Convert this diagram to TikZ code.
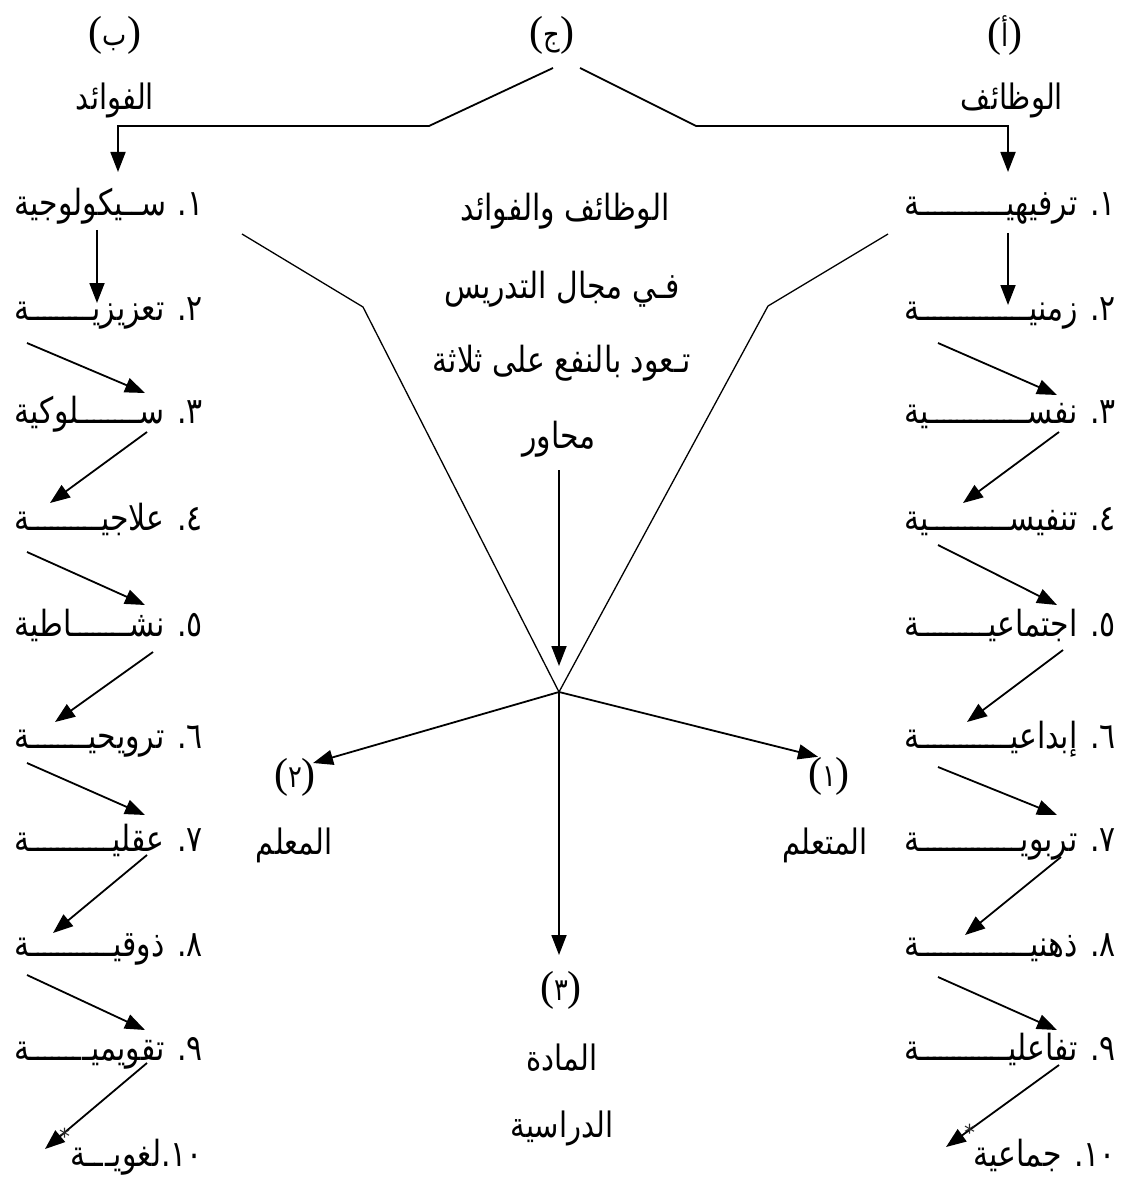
\documentclass[tikz,border=0pt]{standalone}
\usepackage{fontspec}
\TeXXeTstate=1
\newfontfamily\arabicfont[Script=Arabic,FakeStretch=0.83]{DejaVu Sans}
\newfontfamily\parenfont{Liberation Serif}
\newfontfamily\symfont{DejaVu Sans}
\usetikzlibrary{arrows.meta,calc}
% stretched kashida that fills the rest of a justified line
\newcommand\kfill{\xleaders\hbox{ـ\kern-2.5pt}\hfill}
\newcommand\parlbl[1]{\hbox{(}\hbox{\arabicfont\fontsize{31}{34}\selectfont #1}\hbox{)}}
\begin{document}
\begin{tikzpicture}[x=1pt,y=-1pt,
  txt/.style={font=\arabicfont\fontsize{36}{40}\selectfont, inner sep=0pt, text height=26pt, text depth=10pt},
  item/.style={txt, anchor=east},
  word/.style={font=\arabicfont\fontsize{35}{40}\selectfont, inner sep=0pt},
  parn/.style={font=\parenfont\fontsize{42}{46}\selectfont, inner sep=0pt},
  ast/.style={font=\symfont\fontsize{22}{22}\selectfont, text=black!85, inner sep=0pt},
  arr/.style={-{Triangle[length=20pt,width=15pt]}, line width=1.8pt},
  vline/.style={line width=1.3pt},
  ]
\useasboundingbox[fill=white] (0,0) rectangle (1123,1182);

% headings
\node[parn] (hB) at (115,35) {\parlbl{ب}};
\node[parn] (hC) at (552,35) {\parlbl{ج}};
\node[parn] (hA) at (1005,35) {\parlbl{أ}};
\node[word] (wB) at (115,100) {\beginR الفوائد\endR};
\node[word] (wA) at (1012,100) {\beginR الوظائف\endR};

% right column (functions)
\node[item] (r1) at (1116,208) {\hbox to 211pt{\beginR ١. ترفيهيـ\kfill ـة\endR}};
\node[item] (r2) at (1116,312) {\hbox to 211pt{\beginR ٢. زمنيـ\kfill ـة\endR}};
\node[item] (r3) at (1116,415) {\hbox to 211pt{\beginR ٣. نفسـ\kfill ـية\endR}};
\node[item] (r4) at (1116,522) {\hbox to 211pt{\beginR ٤. تنفيسـ\kfill ـية\endR}};
\node[item] (r5) at (1116,628) {\hbox to 211pt{\beginR ٥. اجتماعيـ\kfill ـة\endR}};
\node[item] (r6) at (1116,740) {\hbox to 211pt{\beginR ٦. إبداعيـ\kfill ـة\endR}};
\node[item] (r7) at (1116,843) {\hbox to 211pt{\beginR ٧. تربويـ\kfill ـة\endR}};
\node[item] (r8) at (1116,948) {\hbox to 211pt{\beginR ٨. ذهنيـ\kfill ـة\endR}};
\node[item] (r9) at (1116,1052) {\hbox to 211pt{\beginR ٩. تفاعليـ\kfill ـة\endR}};
\node[item] (r10) at (1116,1158) {\beginR ١٠. جماعية\endR};

% left column (benefits)
\node[item] (l1) at (203,208) {\hbox to 188pt{\beginR ١. سـ\kfill ـيكولوجية\endR}};
\node[item] (l2) at (203,312) {\hbox to 188pt{\beginR ٢. تعزيزيـ\kfill ـة\endR}};
\node[item] (l3) at (203,415) {\hbox to 188pt{\beginR ٣. سـ\kfill ـلوكية\endR}};
\node[item] (l4) at (203,522) {\hbox to 188pt{\beginR ٤. علاجيـ\kfill ـة\endR}};
\node[item] (l5) at (203,628) {\hbox to 188pt{\beginR ٥. نشـ\kfill ـاطية\endR}};
\node[item] (l6) at (203,740) {\hbox to 188pt{\beginR ٦. ترويحيـ\kfill ـة\endR}};
\node[item] (l7) at (203,843) {\hbox to 188pt{\beginR ٧. عقليـ\kfill ـة\endR}};
\node[item] (l8) at (203,948) {\hbox to 188pt{\beginR ٨. ذوقيـ\kfill ـة\endR}};
\node[item] (l9) at (203,1052) {\hbox to 188pt{\beginR ٩. تقويميـ\kfill ـة\endR}};
\node[item] (l10) at (203,1158) {\hbox to 132pt{\beginR ١٠.لغويـ\kfill ـة\endR}};

% top connector
\coordinate (cl) at (553,68);
\coordinate (cr) at (580,68);
\coordinate (kL) at (429,126);
\coordinate (kR) at (696,126);
\coordinate (tL) at (118,126);
\coordinate (tR) at (1008,126);
\draw[arr] (cl) -- (kL) -- (tL) -- ($(l1.east)+(-85,-36)$);
\draw[arr] (cr) -- (kR) -- (tR) -- ($(r1.east)+(-108,-36)$);

% centre text
\node[txt] (c1) at (565,213) {\beginR الوظائف والفوائد\endR};
\node[txt] (c2) at (562,290) {\beginR فـي مجال التدريس\endR};
\node[txt] (c3) at (562,364) {\beginR تـعود بالنفع على ثلاثة\endR};
\node[txt] (c4) at (559,440) {\beginR محاور\endR};

% V shape
\coordinate (apex) at (559,692);
\coordinate (vL0) at (242,234);
\coordinate (vL1) at (363,307);
\coordinate (vR0) at (888,234);
\coordinate (vR1) at (768,306);
\draw[vline] (vL0) -- (vL1) -- (apex) -- (vR1) -- (vR0);
\draw[arr] ($(c4.center)+(0,30)$) -- ($(apex)+(0,-26)$);

% three axes
\node[parn] (n2) at (295,777) {\parlbl{٢}};
\node[parn] (n1) at (829,776) {\parlbl{١}};
\node[parn] (n3) at (561,990) {\parlbl{٣}};
\node[word] (t2) at (294,845) {\beginR المعلم\endR};
\node[word] (t1) at (825,845) {\beginR المتعلم\endR};
\node[word] (t3a) at (562,1058) {\beginR المادة\endR};
\node[word] (t3b) at (562,1128) {\beginR الدراسية\endR};
\draw[arr] (apex) -- ($(n2.east)+(-3,-14)$);
\draw[arr] (apex) -- ($(n1.north)+(-11,0)$);
\draw[arr] (apex) -- ($(n3.center)+(-2,-35)$);

% right column arrows
\draw[arr] ($(r1.east)+(-108,25)$) -- ($(r2.east)+(-108,-7)$);
\draw[arr] ($(r2.east)+(-178,31)$) -- ($(r3.east)+(-59,-20)$);
\draw[arr] ($(r3.east)+(-57,17)$) -- ($(r4.east)+(-153,-19)$);
\draw[arr] ($(r4.east)+(-178,23)$) -- ($(r5.east)+(-59,-23)$);
\draw[arr] ($(r5.east)+(-53,22)$) -- ($(r6.east)+(-149,-18)$);
\draw[arr] ($(r6.east)+(-178,27)$) -- ($(r7.east)+(-59,-28)$);
\draw[arr] ($(r7.east)+(-55,14)$) -- ($(r8.east)+(-151,-13)$);
\draw[arr] ($(r8.east)+(-178,29)$) -- ($(r9.east)+(-59,-22)$);
\draw[arr] ($(r9.east)+(-57,13)$) -- ($(r10.east)+(-170,-11)$);

% left column arrows
\draw[arr] ($(l1.east)+(-106,22)$) -- ($(l2.east)+(-106,-9)$);
\draw[arr] ($(l2.east)+(-176,31)$) -- ($(l3.east)+(-58,-22)$);
\draw[arr] ($(l3.east)+(-56,17)$) -- ($(l4.east)+(-153,-19)$);
\draw[arr] ($(l4.east)+(-176,30)$) -- ($(l5.east)+(-58,-23)$);
\draw[arr] ($(l5.east)+(-50,24)$) -- ($(l6.east)+(-148,-18)$);
\draw[arr] ($(l6.east)+(-176,23)$) -- ($(l7.east)+(-58,-28)$);
\draw[arr] ($(l7.east)+(-56,12)$) -- ($(l8.east)+(-150,-15)$);
\draw[arr] ($(l8.east)+(-176,27)$) -- ($(l9.east)+(-58,-22)$);
\draw[arr] ($(l9.east)+(-56,11)$) -- ($(l10.east)+(-158,-9)$);

% footnote marks
\node[ast] (s10) at ($(r10.west)+(-4,-26)$) {*};
\node[ast] (s20) at ($(l10.west)+(-6,-22)$) {*};
\end{tikzpicture}
\end{document}
